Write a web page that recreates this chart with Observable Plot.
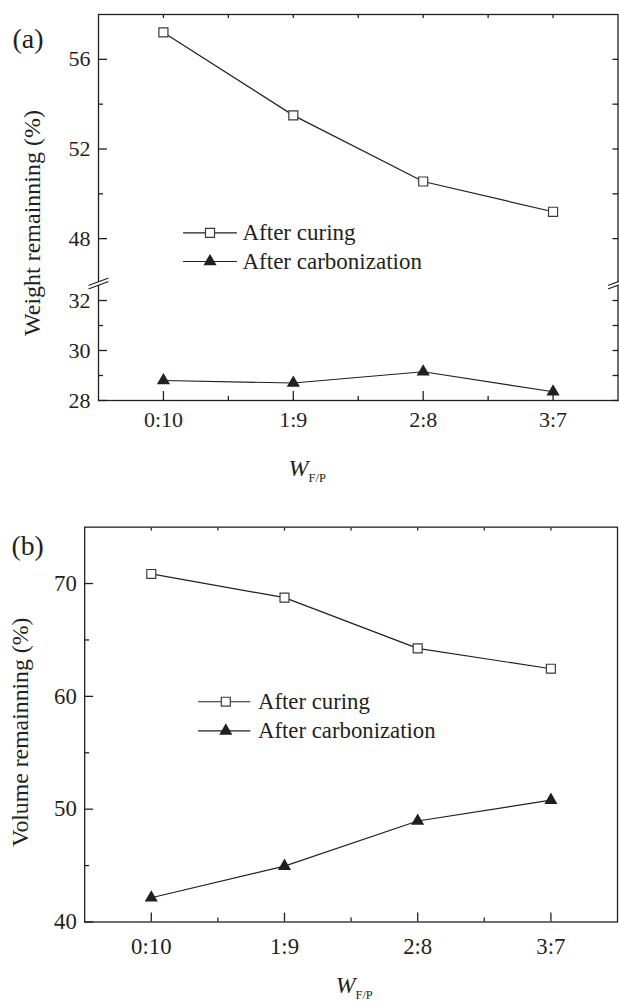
<!DOCTYPE html>
<html>
<head>
<meta charset="utf-8">
<script src="https://cdn.jsdelivr.net/npm/d3@7"></script>
<script src="https://cdn.jsdelivr.net/npm/@observablehq/plot@0.6"></script>
<style>
  html, body { margin: 0; padding: 0; background: #fff; }
  #wrap { position: relative; width: 619px; height: 1006px; overflow: hidden; background: #fff; }
  .panel { position: absolute; left: 0; }
</style>
</head>
<body>
<div id="wrap"></div>
<script>
// ---------- data ----------
const categories = ["0:10", "1:9", "2:8", "3:7"];
const seriesNames = ["After curing", "After carbonization"];

const weightCuring = [57.2, 53.5, 50.55, 49.2];
const weightCarbon = [28.8, 28.7, 29.15, 28.35];
const volumeCuring = [70.85, 68.75, 64.25, 62.45];
const volumeCarbon = [42.15, 44.95, 48.95, 50.8];

const weightMajorTicks = [28, 30, 32, 48, 52, 56];
const weightMinorTicks = [29, 31, 50, 54];
const weightBreak = [32.68, 46];          // axis break: values between are hidden
const weightLimits = [28, 58];

const volumeMajorTicks = [40, 50, 60, 70];
const volumeMinorTicks = [45, 55, 65];
const volumeLimits = [40, 75];

const yLabels = ["Weight remainning (%)", "Volume remainning (%)"];
const panelTags = ["(a)", "(b)"];
const xTitle = ["W", "F/P"];

// ---------- helpers ----------
const ink = "#231f20";
const FONT = '"Liberation Serif", "Times New Roman", Times, serif';
const xIndex = categories.map((_, i) => i);
const xMinor = categories.slice(1).map((_, i) => i + 0.5);

function rows(curing, carbon) {
  return [
    ...categories.map((c, i) => ({i, cat: c, value: curing[i], series: seriesNames[0]})),
    ...categories.map((c, i) => ({i, cat: c, value: carbon[i], series: seriesNames[1]}))
  ];
}

const hline = {draw(ctx, l) { ctx.moveTo(-l / 2, 0); ctx.lineTo(l / 2, 0); }};
const breakFill = {draw(ctx) {
  ctx.moveTo(-9.5, 5.25); ctx.lineTo(9.5, -1.75); ctx.lineTo(9.5, -5.25); ctx.lineTo(-9.5, 1.75); ctx.closePath();
}};
const breakLines = {draw(ctx) {
  ctx.moveTo(-9.5, 5.25); ctx.lineTo(9.5, -1.75);
  ctx.moveTo(-9.5, 1.75); ctx.lineTo(9.5, -5.25);
}};

function makePanel(cfg) {
  const data = rows(cfg.curing, cfg.carbon);
  const noText = () => "";
  const ax = {label: null, strokeWidth: 1.3, stroke: ink};
  const marks = [
    // data
    Plot.line(data, {x: "i", y: "value", z: "series", stroke: ink, strokeWidth: 1.2}),
    Plot.dot(data.filter(d => d.series === seriesNames[0]), {x: "i", y: "value", symbol: "square", r: 5.1, fill: "white", stroke: "#3a3a3a", strokeWidth: 1.2}),
    Plot.dot(data.filter(d => d.series === seriesNames[1]), {x: "i", y: "value", symbol: "triangle", r: 4.9, fill: ink, stroke: "none"}),
    // frame
    Plot.frame({stroke: ink, strokeWidth: 1.3}),
    // bottom axis
    Plot.axisX({...ax, ticks: xIndex, tickSize: -9, tickFormat: noText}),
    Plot.axisX({...ax, ticks: xMinor, tickSize: -4, tickFormat: noText}),
    Plot.axisX({label: null, ticks: xIndex, tickSize: 0, tickPadding: cfg.xLabelPad, tickFormat: i => categories[i], fontSize: cfg.tickFont, fill: ink}),
    // top axis
    Plot.axisX({...ax, anchor: "top", ticks: [...xIndex, ...xMinor], tickSize: -3, tickFormat: noText}),
    // left axis
    Plot.axisY({...ax, ticks: cfg.major, tickSize: -9, tickFormat: noText}),
    Plot.axisY({...ax, ticks: cfg.minor, tickSize: -5, tickFormat: noText}),
    Plot.axisY({label: null, ticks: cfg.major, tickSize: 0, tickPadding: 8, fontSize: cfg.tickFont, fill: ink}),
    // y label
    Plot.text([cfg.yLabel], {text: d => d, frameAnchor: "left", rotate: -90, textAnchor: "middle", lineAnchor: "bottom", dx: cfg.yLabelDx, dy: cfg.yLabelDy, fontSize: 24, fill: ink}),
    // panel tag
    Plot.text([cfg.tag], {text: d => d, frameAnchor: "top-left", textAnchor: "start", lineAnchor: "bottom", dx: cfg.tagDx, dy: cfg.tagDy, fontSize: 28, fill: ink}),
    // x title
    Plot.text([xTitle[0]], {text: d => d, frameAnchor: "bottom", textAnchor: "middle", lineAnchor: "bottom", dx: cfg.wDx, dy: cfg.wDy, fontSize: 24, fontStyle: "italic", fill: ink}),
    Plot.text([xTitle[1]], {text: d => d, frameAnchor: "bottom", textAnchor: "start", lineAnchor: "bottom", dx: cfg.wDx + 10, dy: cfg.wDy + 6, fontSize: 12.5, fill: ink}),
  ];
  // legend
  const L = cfg.legend;
  [0, 1].forEach(k => {
    const dy = L.dy[k];
    marks.push(Plot.vector([0], {frameAnchor: "top-left", dx: L.lineDx, dy, length: L.len, shape: hline, anchor: "start", stroke: ink, strokeWidth: 1.2}));
    marks.push(k === 0
      ? Plot.dot([0], {frameAnchor: "top-left", dx: L.markDx, dy, symbol: "square", r: 5.1, fill: "white", stroke: "#3a3a3a", strokeWidth: 1.2})
      : Plot.dot([0], {frameAnchor: "top-left", dx: L.markDx, dy, symbol: "triangle", r: 4.9, fill: ink, stroke: "none"}));
    marks.push(Plot.text([seriesNames[k]], {text: d => d, frameAnchor: "top-left", textAnchor: "start", lineAnchor: "middle", dx: L.textDx, dy, fontSize: 23, fill: ink}));
  });
  // axis break
  if (cfg.breakVal != null) {
    for (const fa of ["left", "right"]) {
      marks.push(Plot.vector([cfg.breakVal], {y: d => d, frameAnchor: fa, length: 1, shape: breakFill, anchor: "start", fill: "white", stroke: "none"}));
      marks.push(Plot.vector([cfg.breakVal], {y: d => d, frameAnchor: fa, length: 1, shape: breakLines, anchor: "start", stroke: ink, strokeWidth: 1.2}));
    }
  }
  if (cfg.rightTicks) {
    marks.push(Plot.axisY({...ax, anchor: "right", ticks: [...cfg.major, ...cfg.minor], tickSize: -6, tickFormat: noText}));
  }
  const svg = Plot.plot({
    width: cfg.width, height: cfg.height,
    marginTop: cfg.mt, marginBottom: cfg.mb, marginLeft: cfg.ml, marginRight: cfg.mr,
    style: {fontFamily: FONT, color: ink, background: "white", overflow: "visible"},
    x: {type: "linear", domain: [-0.5, categories.length - 0.5], label: null},
    y: cfg.y,
    marks
  });
  svg.classList.add("panel");
  svg.style.top = cfg.top + "px";
  return svg;
}

const wrap = document.getElementById("wrap");

// Panel (a): broken y axis (28–32.7 and 46–58)
wrap.appendChild(makePanel({
  top: 0, width: 619, height: 490, mt: 14, mb: 90, ml: 98, mr: 1.5,
  y: {type: "linear", domain: [weightLimits[0], weightBreak[0], weightBreak[1], weightLimits[1]], range: [400, 283, 283, 14], label: null},
  curing: weightCuring, carbon: weightCarbon,
  major: weightMajorTicks, minor: weightMinorTicks,
  tickFont: 22, xLabelPad: 10.6,
  yLabel: yLabels[0], yLabelDx: -59, yLabelDy: 15.5,
  tag: panelTags[0], tagDx: -86, tagDy: 33,
  wDx: -59.75, wDy: 75,
  legend: {dy: [218.3, 247], lineDx: 111.5, len: 53, markDx: 111.5, textDx: 144},
  breakVal: weightBreak[0], rightTicks: true
}));

// Panel (b)
wrap.appendChild(makePanel({
  top: 490, width: 625, height: 516, mt: 37, mb: 80.3, ml: 85, mr: 2,
  y: {type: "linear", domain: volumeLimits, label: null},
  curing: volumeCuring, carbon: volumeCarbon,
  major: volumeMajorTicks, minor: volumeMinorTicks,
  tickFont: 23, xLabelPad: 16,
  yLabel: yLabels[1], yLabelDx: -57, yLabelDy: 7.65,
  tag: panelTags[1], tagDx: -74, tagDy: 28,
  wDx: -5.5, wDy: 71.3,
  legend: {dy: [176.3, 205.7], lineDx: 140.85, len: 52, markDx: 142.5, textDx: 175},
  breakVal: null, rightTicks: false
}));
</script>
</body>
</html>
